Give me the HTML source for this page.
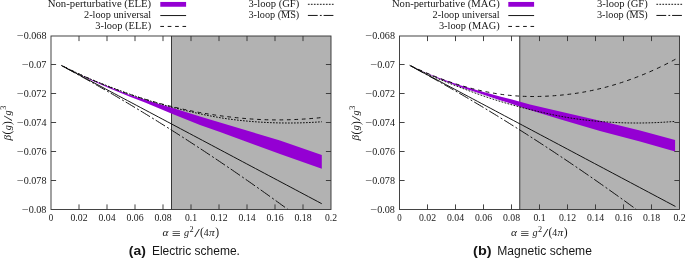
<!DOCTYPE html>
<html><head><meta charset="utf-8"><title>Beta function plots</title>
<style>
html,body{margin:0;padding:0;background:#fff;}
svg{display:block;font-family:"Liberation Serif",serif;fill:#161616;}
.ln{fill:none;stroke:#0a0a0a;stroke-width:0.95;}
.fr{fill:none;stroke:#333;stroke-width:0.92;}
</style></head><body>
<svg width="685" height="259" viewBox="0 0 685 259">
<rect width="685" height="259" fill="#fff"/>
<rect x="171.50" y="36.0" width="159.50" height="173.50" fill="#b2b2b2"/>
<line x1="171.50" y1="36.0" x2="171.50" y2="209.5" stroke="#383838" stroke-width="1"/>
<polygon points="61.30,65.20 75.00,72.20 90.00,79.00 110.00,87.30 130.00,94.90 160.00,104.20 171.30,107.60 200.00,116.50 220.00,122.40 280.00,140.60 321.80,155.10 321.80,168.70 280.00,153.90 220.00,132.00 200.00,124.90 171.30,113.60 160.00,108.80 145.00,102.60 130.00,96.80 110.00,88.50 90.00,79.80 61.30,65.20" fill="#9400d3"/>
<path d="M61.29,65.44 L65.70,67.78 L70.12,70.13 L74.53,72.47 L78.95,74.81 L83.36,77.16 L87.78,79.50 L92.19,81.84 L96.61,84.19 L101.02,86.53 L105.44,88.87 L109.85,91.22 L114.27,93.56 L118.68,95.90 L123.10,98.25 L127.51,100.59 L131.93,102.93 L136.34,105.28 L140.76,107.62 L145.17,109.97 L149.58,112.31 L154.00,114.65 L158.41,117.00 L162.83,119.34 L167.24,121.68 L171.66,124.03 L176.07,126.37 L180.49,128.71 L184.90,131.06 L189.32,133.40 L193.73,135.74 L198.15,138.09 L202.56,140.43 L206.98,142.77 L211.39,145.12 L215.81,147.46 L220.22,149.81 L224.64,152.15 L229.05,154.49 L233.47,156.84 L237.88,159.18 L242.29,161.52 L246.71,163.87 L251.12,166.21 L255.54,168.55 L259.95,170.90 L264.37,173.24 L268.78,175.58 L273.20,177.93 L277.61,180.27 L282.03,182.61 L286.44,184.96 L290.86,187.30 L295.27,189.64 L299.69,191.99 L304.10,194.33 L308.52,196.68 L312.93,199.02 L317.35,201.36 L321.76,203.71" class="ln"/>
<path d="M63.45,66.40 L65.30,67.33 L67.15,68.24 M70.90,70.07 L72.75,70.97 L74.60,71.85 M78.35,73.62 L80.20,74.47 L82.05,75.33 M85.80,77.03 L87.65,77.85 L89.50,78.67 M93.25,80.31 L95.10,81.10 L96.95,81.89 M100.70,83.46 L102.55,84.22 L104.40,84.97 M108.15,86.47 L110.00,87.20 L111.85,87.92 M115.60,89.34 L117.45,90.02 L119.30,90.70 M123.05,92.04 L124.90,92.69 L126.75,93.33 M130.50,94.60 L132.35,95.21 L134.20,95.81 M137.95,97.02 L139.80,97.60 L141.65,98.17 M145.40,99.31 L147.25,99.86 L149.10,100.40 M152.85,101.48 L154.70,102.01 L156.55,102.53 M160.30,103.56 L162.15,104.06 L164.00,104.55 M167.75,105.53 L169.60,106.00 L171.45,106.46 M175.20,107.38 L177.05,107.81 L178.90,108.24 M182.65,109.09 L184.50,109.50 L186.35,109.89 M190.10,110.67 L191.95,111.05 L193.80,111.41 M197.55,112.13 L199.40,112.47 L201.25,112.80 M205.00,113.45 L206.85,113.76 L208.70,114.06 M212.45,114.64 L214.30,114.92 L216.15,115.19 M219.90,115.71 L221.75,115.95 L223.60,116.19 M227.35,116.66 L229.20,116.88 L231.05,117.10 M234.80,117.52 L236.65,117.71 L238.50,117.90 M242.25,118.26 L244.10,118.42 L245.95,118.58 M249.70,118.88 L251.55,119.01 L253.40,119.14 M257.15,119.36 L259.00,119.46 L260.85,119.55 M264.60,119.70 L266.45,119.76 L268.30,119.81 M272.05,119.88 L273.90,119.90 L275.75,119.91 M279.50,119.90 L281.35,119.89 L283.20,119.86 M286.95,119.79 L288.80,119.74 L290.65,119.69 M294.40,119.55 L296.25,119.47 L298.10,119.38 M301.85,119.18 L303.70,119.06 L305.55,118.94 M309.30,118.67 L311.15,118.53 L313.00,118.37 M316.75,118.04 L318.60,117.86 L320.45,117.67" class="ln" stroke-width="1.1"/>
<path d="M61.29,65.32 L61.70,65.53 M63.00,66.19 L64.70,67.04 M66.00,67.69 L67.70,68.53 M69.00,69.17 L70.70,70.00 M72.00,70.63 L73.70,71.45 M75.00,72.07 L76.70,72.88 M78.00,73.49 L79.70,74.29 M81.00,74.89 L82.70,75.67 M84.00,76.25 L85.70,77.00 M87.00,77.57 L88.70,78.31 M90.00,78.86 L91.70,79.58 M93.00,80.12 L94.70,80.82 M96.00,81.35 L97.70,82.04 M99.00,82.56 L100.70,83.23 M102.00,83.74 L103.70,84.41 M105.00,84.91 L106.70,85.56 M108.00,86.06 L109.70,86.71 M111.00,87.20 L112.70,87.85 M114.00,88.34 L115.70,88.97 M117.00,89.46 L118.70,90.10 M120.00,90.58 L121.70,91.22 M123.00,91.70 L124.70,92.33 M126.00,92.80 L127.70,93.42 M129.00,93.88 L130.70,94.48 M132.00,94.94 L133.70,95.53 M135.00,95.98 L136.70,96.56 M138.00,97.00 L139.70,97.57 M141.00,98.00 L142.70,98.56 M144.00,98.98 L145.70,99.52 M147.00,99.94 L148.70,100.47 M150.00,100.88 L151.70,101.40 M153.00,101.79 L154.70,102.31 M156.00,102.69 L157.70,103.19 M159.00,103.57 L160.70,104.06 M162.00,104.43 L163.70,104.91 M165.00,105.27 L166.70,105.73 M168.00,106.08 L169.70,106.54 M171.00,106.88 L172.70,107.33 M174.00,107.66 L175.70,108.09 M177.00,108.42 L178.70,108.84 M180.00,109.16 L181.70,109.58 M183.00,109.90 L184.70,110.31 M186.00,110.62 L187.70,111.02 M189.00,111.33 L190.70,111.73 M192.00,112.03 L193.70,112.42 M195.00,112.71 L196.70,113.09 M198.00,113.38 L199.70,113.75 M201.00,114.03 L202.70,114.39 M204.00,114.66 L205.70,115.01 M207.00,115.28 L208.70,115.61 M210.00,115.87 L211.70,116.19 M213.00,116.44 L214.70,116.75 M216.00,116.98 L217.70,117.28 M219.00,117.50 L220.70,117.79 M222.00,118.00 L223.70,118.27 M225.00,118.47 L226.70,118.72 M228.00,118.90 L229.70,119.14 M231.00,119.31 L232.70,119.53 M234.00,119.69 L235.70,119.89 M237.00,120.05 L238.70,120.24 M240.00,120.38 L241.70,120.56 M243.00,120.70 L244.70,120.87 M246.00,120.99 L247.70,121.15 M249.00,121.27 L250.70,121.41 M252.00,121.52 L253.70,121.66 M255.00,121.75 L256.70,121.88 M258.00,121.97 L259.70,122.08 M261.00,122.16 L262.70,122.26 M264.00,122.34 L265.70,122.43 M267.00,122.49 L268.70,122.57 M270.00,122.63 L271.70,122.69 M273.00,122.74 L274.70,122.80 M276.00,122.83 L277.70,122.88 M279.00,122.91 L280.70,122.94 M282.00,122.96 L283.70,122.98 M285.00,122.99 L286.70,123.00 M288.00,123.01 L289.70,123.01 M291.00,123.00 L292.70,122.99 M294.00,122.97 L295.70,122.95 M297.00,122.93 L298.70,122.89 M300.00,122.86 L301.70,122.81 M303.00,122.77 L304.70,122.71 M306.00,122.66 L307.70,122.59 M309.00,122.54 L310.70,122.46 M312.00,122.39 L313.70,122.30 M315.00,122.22 L316.70,122.12 M318.00,122.03 L319.70,121.92 M321.00,121.83 L321.76,121.77" class="ln" stroke-width="1.1"/>
<path d="M62.10,65.92 L63.80,66.84 M65.70,67.87 L67.56,68.88 L69.42,69.90 L71.28,70.92 L73.14,71.94 L75.00,72.96 M77.10,74.12 L78.80,75.06 M80.70,76.12 L82.56,77.15 L84.42,78.19 L86.28,79.23 L88.14,80.27 L90.00,81.32 M92.10,82.51 L93.80,83.47 M95.70,84.55 L97.56,85.61 L99.42,86.67 L101.28,87.74 L103.14,88.80 L105.00,89.87 M107.10,91.09 L108.80,92.07 M110.70,93.17 L112.56,94.26 L114.42,95.34 L116.28,96.43 L118.14,97.52 L120.00,98.62 M122.10,99.86 L123.80,100.86 M125.70,101.99 L127.56,103.09 L129.42,104.20 L131.28,105.32 L133.14,106.43 L135.00,107.55 M137.10,108.81 L138.80,109.84 M140.70,110.99 L142.56,112.12 L144.42,113.26 L146.28,114.39 L148.14,115.53 L150.00,116.67 M152.10,117.96 L153.80,119.01 M155.70,120.19 L157.56,121.34 L159.42,122.50 L161.28,123.66 L163.14,124.82 L165.00,125.98 M167.10,127.30 L168.80,128.37 M170.70,129.57 L172.56,130.75 L174.42,131.93 L176.28,133.11 L178.14,134.30 L180.00,135.49 M182.10,136.83 L183.80,137.92 M185.70,139.15 L187.56,140.35 L189.42,141.55 L191.28,142.76 L193.14,143.97 L195.00,145.18 M197.10,146.55 L198.80,147.67 M200.70,148.91 L202.56,150.14 L204.42,151.36 L206.28,152.59 L208.14,153.83 L210.00,155.06 M212.10,156.46 L213.80,157.60 M215.70,158.87 L217.56,160.12 L219.42,161.37 L221.28,162.62 L223.14,163.88 L225.00,165.14 M227.10,166.56 L228.80,167.72 M230.70,169.01 L232.56,170.28 L234.42,171.56 L236.28,172.84 L238.14,174.12 L240.00,175.40 M242.10,176.85 L243.80,178.03 M245.70,179.35 L247.56,180.64 L249.42,181.94 L251.28,183.24 L253.14,184.55 L255.00,185.85 M257.10,187.33 L258.80,188.53 M260.70,189.88 L262.56,191.19 L264.42,192.52 L266.28,193.84 L268.14,195.17 L270.00,196.50 M272.10,198.00 L273.80,199.22 M275.70,200.59 L277.56,201.93 L279.42,203.28 L281.28,204.63 L283.14,205.98 L285.00,207.33 M287.10,208.86 L287.97,209.50" class="ln" stroke-width="1.15"/>
<rect x="51.0" y="36.0" width="280.00" height="173.50" fill="none" class="fr"/>
<path d="M79.00,209.5 v-5.1 M79.00,36.0 v5.1 M107.00,209.5 v-5.1 M107.00,36.0 v5.1 M135.00,209.5 v-5.1 M135.00,36.0 v5.1 M163.00,209.5 v-5.1 M163.00,36.0 v5.1 M191.00,209.5 v-5.1 M191.00,36.0 v5.1 M219.00,209.5 v-5.1 M219.00,36.0 v5.1 M247.00,209.5 v-5.1 M247.00,36.0 v5.1 M275.00,209.5 v-5.1 M275.00,36.0 v5.1 M303.00,209.5 v-5.1 M303.00,36.0 v5.1 M51.0,64.50 h5.1 M331.0,64.50 h-5.1 M51.0,93.50 h5.1 M331.0,93.50 h-5.1 M51.0,122.50 h5.1 M331.0,122.50 h-5.1 M51.0,151.50 h5.1 M331.0,151.50 h-5.1 M51.0,180.50 h5.1 M331.0,180.50 h-5.1" class="fr"/>
<text font-size="9.7"><tspan x="16.80" y="39.15" textLength="6.9" lengthAdjust="spacingAndGlyphs">−</tspan><tspan x="23.70" y="39.00" textLength="22.75" lengthAdjust="spacingAndGlyphs">0.068</tspan></text>
<text font-size="9.7"><tspan x="21.75" y="68.07" textLength="6.9" lengthAdjust="spacingAndGlyphs">−</tspan><tspan x="28.65" y="67.92" textLength="17.80" lengthAdjust="spacingAndGlyphs">0.07</tspan></text>
<text font-size="9.7"><tspan x="16.80" y="96.98" textLength="6.9" lengthAdjust="spacingAndGlyphs">−</tspan><tspan x="23.70" y="96.83" textLength="22.75" lengthAdjust="spacingAndGlyphs">0.072</tspan></text>
<text font-size="9.7"><tspan x="16.80" y="125.90" textLength="6.9" lengthAdjust="spacingAndGlyphs">−</tspan><tspan x="23.70" y="125.75" textLength="22.75" lengthAdjust="spacingAndGlyphs">0.074</tspan></text>
<text font-size="9.7"><tspan x="16.80" y="154.82" textLength="6.9" lengthAdjust="spacingAndGlyphs">−</tspan><tspan x="23.70" y="154.67" textLength="22.75" lengthAdjust="spacingAndGlyphs">0.076</tspan></text>
<text font-size="9.7"><tspan x="16.80" y="183.73" textLength="6.9" lengthAdjust="spacingAndGlyphs">−</tspan><tspan x="23.70" y="183.58" textLength="22.75" lengthAdjust="spacingAndGlyphs">0.078</tspan></text>
<text font-size="9.7"><tspan x="21.75" y="212.65" textLength="6.9" lengthAdjust="spacingAndGlyphs">−</tspan><tspan x="28.65" y="212.50" textLength="17.80" lengthAdjust="spacingAndGlyphs">0.08</tspan></text>
<text x="51.00" y="220.60" font-size="9.7" text-anchor="middle" textLength="4.45" lengthAdjust="spacingAndGlyphs">0</text>
<text x="79.00" y="220.60" font-size="9.7" text-anchor="middle" textLength="17.10" lengthAdjust="spacingAndGlyphs">0.02</text>
<text x="107.00" y="220.60" font-size="9.7" text-anchor="middle" textLength="17.10" lengthAdjust="spacingAndGlyphs">0.04</text>
<text x="135.00" y="220.60" font-size="9.7" text-anchor="middle" textLength="17.10" lengthAdjust="spacingAndGlyphs">0.06</text>
<text x="163.00" y="220.60" font-size="9.7" text-anchor="middle" textLength="17.10" lengthAdjust="spacingAndGlyphs">0.08</text>
<text x="191.00" y="220.60" font-size="9.7" text-anchor="middle" textLength="12.15" lengthAdjust="spacingAndGlyphs">0.1</text>
<text x="219.00" y="220.60" font-size="9.7" text-anchor="middle" textLength="17.10" lengthAdjust="spacingAndGlyphs">0.12</text>
<text x="247.00" y="220.60" font-size="9.7" text-anchor="middle" textLength="17.10" lengthAdjust="spacingAndGlyphs">0.14</text>
<text x="275.00" y="220.60" font-size="9.7" text-anchor="middle" textLength="17.10" lengthAdjust="spacingAndGlyphs">0.16</text>
<text x="303.00" y="220.60" font-size="9.7" text-anchor="middle" textLength="17.10" lengthAdjust="spacingAndGlyphs">0.18</text>
<text x="331.00" y="220.60" font-size="9.7" text-anchor="middle" textLength="12.15" lengthAdjust="spacingAndGlyphs">0.2</text>
<text y="235.9" font-size="9.8"><tspan x="162.50" font-style="italic" font-size="11.3">α</tspan><tspan x="171.50" y="236.8" font-family="DejaVu Sans, sans-serif" font-size="11.8" fill="#555">≡</tspan><tspan x="183.90" y="235.9" font-style="italic" font-size="10.2">g</tspan><tspan x="189.40" y="231.6" font-size="8.2">2</tspan><tspan x="194.20" y="236.8" font-size="12" textLength="5.6" lengthAdjust="spacingAndGlyphs">/</tspan><tspan x="200.00" y="236.3" font-size="11.6">(</tspan><tspan x="203.70" y="235.9">4</tspan><tspan x="208.90" font-style="italic" font-size="11.3">π</tspan><tspan x="215.30" y="236.3" font-size="11.6">)</tspan></text>
<text transform="translate(10.60,140.6) rotate(-90)" y="0" font-size="9.8"><tspan x="0" font-style="italic" font-size="11.3">β</tspan><tspan x="6.2" y="0.4" font-size="11.6">(</tspan><tspan x="10.3" y="0" font-style="italic" font-size="10.2">g</tspan><tspan x="15.6" y="0.4" font-size="11.6">)</tspan><tspan x="19.5" y="0.9" font-size="12" textLength="5.6" lengthAdjust="spacingAndGlyphs">/</tspan><tspan x="25.1" y="0" font-style="italic" font-size="10.2">g</tspan><tspan x="30.8" y="-4.3" font-size="8.2">3</tspan></text>
<text x="151.20" y="7.20" font-size="9.8" text-anchor="end" textLength="103.50" lengthAdjust="spacingAndGlyphs">Non-perturbative (ELE)</text>
<text x="151.20" y="18.20" font-size="9.8" text-anchor="end" textLength="67.20" lengthAdjust="spacingAndGlyphs">2-loop universal</text>
<text x="151.20" y="29.20" font-size="9.8" text-anchor="end" textLength="56.00" lengthAdjust="spacingAndGlyphs">3-loop (ELE)</text>
<rect x="160.30" y="1.95" width="25.8" height="4.8" fill="#9400d3"/>
<path d="M160.30,15.55 H186.10" class="ln"/>
<path d="M160.30,26.45 H186.10" class="ln" stroke-dasharray="3.7 3.7"/>
<text x="299.30" y="7.20" font-size="9.8" text-anchor="end" textLength="50.90" lengthAdjust="spacingAndGlyphs">3-loop (GF)</text>
<text x="299.30" y="18.20" font-size="9.8" text-anchor="end" textLength="50.90" lengthAdjust="spacingAndGlyphs">3-loop (MS)</text>
<path d="M280.00,10.65 h15.2" stroke="#111" stroke-width="0.5" fill="none"/>
<path d="M307.90,4.3 H333.70" class="ln" stroke-dasharray="1.7 1.3"/>
<path d="M307.90,15.45 H333.70" class="ln" stroke-dasharray="9.8 2.2 1.8 1.9"/>
<text x="128.80" y="255.40" font-size="12.5" textLength="17.00" lengthAdjust="spacingAndGlyphs" font-family="Liberation Sans" font-weight="bold">(a)</text>
<text x="151.90" y="255.40" font-size="12.5" textLength="88.00" lengthAdjust="spacingAndGlyphs" font-family="Liberation Sans">Electric scheme.</text>
<rect x="519.75" y="36.0" width="159.75" height="173.50" fill="#b2b2b2"/>
<line x1="519.75" y1="36.0" x2="519.75" y2="209.5" stroke="#383838" stroke-width="1"/>
<polygon points="409.80,65.20 425.00,72.20 440.00,78.30 460.00,85.30 480.00,90.90 500.00,96.40 512.00,99.50 530.00,104.40 560.00,111.50 600.00,120.80 640.00,130.60 675.10,139.95 675.10,151.60 640.00,141.60 600.00,131.00 560.00,119.30 530.00,109.90 512.00,104.00 500.00,100.20 480.00,93.50 460.00,87.00 440.00,79.20 425.00,72.50 409.80,65.20" fill="#9400d3"/>
<path d="M409.79,65.44 L414.29,67.83 L418.80,70.22 L423.30,72.61 L427.80,75.00 L432.30,77.39 L436.81,79.78 L441.31,82.17 L445.81,84.56 L450.31,86.95 L454.82,89.34 L459.32,91.73 L463.82,94.12 L468.32,96.51 L472.83,98.90 L477.33,101.29 L481.83,103.68 L486.33,106.07 L490.84,108.46 L495.34,110.85 L499.84,113.24 L504.34,115.63 L508.85,118.02 L513.35,120.41 L517.85,122.80 L522.35,125.19 L526.86,127.58 L531.36,129.97 L535.86,132.36 L540.36,134.75 L544.87,137.14 L549.37,139.53 L553.87,141.92 L558.37,144.31 L562.88,146.70 L567.38,149.09 L571.88,151.48 L576.38,153.87 L580.89,156.26 L585.39,158.65 L589.89,161.04 L594.39,163.43 L598.90,165.82 L603.40,168.21 L607.90,170.60 L612.40,172.99 L616.91,175.38 L621.41,177.77 L625.91,180.16 L630.41,182.55 L634.92,184.94 L639.42,187.33 L643.92,189.72 L648.42,192.11 L652.93,194.50 L657.43,196.90 L661.93,199.29 L666.43,201.68 L670.94,204.07 L675.44,206.46" class="ln"/>
<path d="M411.05,65.86 L412.90,66.75 L414.75,67.63 M418.50,69.38 L420.35,70.23 L422.20,71.06 M425.95,72.70 L427.80,73.49 L429.65,74.27 M433.40,75.81 L435.25,76.54 L437.10,77.27 M440.85,78.70 L442.70,79.39 L444.55,80.06 M448.30,81.39 L450.15,82.02 L452.00,82.64 M455.75,83.86 L457.60,84.44 L459.45,85.01 M463.20,86.12 L465.05,86.65 L466.90,87.17 M470.65,88.17 L472.50,88.65 L474.35,89.11 M478.10,90.01 L479.95,90.44 L481.80,90.85 M485.55,91.64 L487.40,92.01 L489.25,92.37 M493.00,93.05 L494.85,93.37 L496.70,93.67 M500.45,94.24 L502.30,94.50 L504.15,94.74 M507.90,95.18 L509.75,95.37 L511.60,95.55 M515.35,95.86 L517.20,95.98 L519.05,96.10 M522.80,96.29 L524.65,96.36 L526.50,96.42 M530.25,96.49 L532.10,96.50 L533.95,96.51 M537.70,96.47 L539.55,96.43 L541.40,96.38 M545.15,96.24 L547.00,96.16 L548.85,96.06 M552.60,95.82 L554.45,95.69 L556.30,95.54 M560.05,95.22 L561.90,95.04 L563.75,94.86 M567.50,94.45 L569.35,94.23 L571.20,94.00 M574.95,93.49 L576.80,93.21 L578.65,92.93 M582.40,92.31 L584.25,91.98 L586.10,91.64 M589.85,90.91 L591.70,90.53 L593.55,90.13 M597.30,89.29 L599.15,88.86 L601.00,88.41 M604.75,87.46 L606.60,86.97 L608.45,86.46 M612.20,85.40 L614.05,84.86 L615.90,84.30 M619.65,83.13 L621.50,82.54 L623.35,81.93 M627.10,80.66 L628.95,80.01 L630.80,79.35 M634.55,77.97 L636.40,77.27 L638.25,76.55 M642.00,75.06 L643.85,74.30 L645.70,73.53 M649.45,71.93 L651.30,71.12 L653.15,70.29 M656.90,68.58 L658.75,67.71 L660.60,66.83 M664.35,64.99 L666.20,64.07 L668.05,63.13 M671.80,61.18 L673.62,60.22 L675.44,59.24" class="ln" stroke-width="1.1"/>
<path d="M409.79,65.32 L410.20,65.53 M411.50,66.19 L413.20,67.04 M414.50,67.69 L416.20,68.53 M417.50,69.17 L419.20,70.00 M420.50,70.63 L422.20,71.45 M423.50,72.07 L425.20,72.88 M426.50,73.49 L428.20,74.29 M429.50,74.89 L431.20,75.67 M432.50,76.25 L434.20,77.00 M435.50,77.57 L437.20,78.31 M438.50,78.86 L440.20,79.58 M441.50,80.12 L443.20,80.82 M444.50,81.35 L446.20,82.04 M447.50,82.56 L449.20,83.23 M450.50,83.74 L452.20,84.41 M453.50,84.91 L455.20,85.56 M456.50,86.06 L458.20,86.71 M459.50,87.20 L461.20,87.85 M462.50,88.34 L464.20,88.97 M465.50,89.46 L467.20,90.10 M468.50,90.58 L470.20,91.22 M471.50,91.70 L473.20,92.33 M474.50,92.80 L476.20,93.42 M477.50,93.88 L479.20,94.48 M480.50,94.94 L482.20,95.53 M483.50,95.98 L485.20,96.56 M486.50,97.00 L488.20,97.57 M489.50,98.00 L491.20,98.56 M492.50,98.98 L494.20,99.52 M495.50,99.94 L497.20,100.47 M498.50,100.88 L500.20,101.40 M501.50,101.79 L503.20,102.31 M504.50,102.69 L506.20,103.19 M507.50,103.57 L509.20,104.06 M510.50,104.43 L512.20,104.91 M513.50,105.27 L515.20,105.73 M516.50,106.08 L518.20,106.54 M519.50,106.88 L521.20,107.33 M522.50,107.66 L524.20,108.09 M525.50,108.42 L527.20,108.84 M528.50,109.16 L530.20,109.58 M531.50,109.90 L533.20,110.31 M534.50,110.62 L536.20,111.02 M537.50,111.33 L539.20,111.73 M540.50,112.03 L542.20,112.42 M543.50,112.71 L545.20,113.09 M546.50,113.38 L548.20,113.75 M549.50,114.03 L551.20,114.39 M552.50,114.66 L554.20,115.01 M555.50,115.28 L557.20,115.61 M558.50,115.87 L560.20,116.19 M561.50,116.44 L563.20,116.75 M564.50,116.98 L566.20,117.28 M567.50,117.50 L569.20,117.79 M570.50,118.00 L572.20,118.27 M573.50,118.47 L575.20,118.72 M576.50,118.90 L578.20,119.14 M579.50,119.31 L581.20,119.53 M582.50,119.69 L584.20,119.89 M585.50,120.05 L587.20,120.24 M588.50,120.38 L590.20,120.56 M591.50,120.70 L593.20,120.87 M594.50,120.99 L596.20,121.15 M597.50,121.27 L599.20,121.41 M600.50,121.52 L602.20,121.66 M603.50,121.75 L605.20,121.88 M606.50,121.97 L608.20,122.08 M609.50,122.16 L611.20,122.26 M612.50,122.34 L614.20,122.43 M615.50,122.49 L617.20,122.57 M618.50,122.63 L620.20,122.69 M621.50,122.74 L623.20,122.80 M624.50,122.83 L626.20,122.88 M627.50,122.91 L629.20,122.94 M630.50,122.96 L632.20,122.98 M633.50,122.99 L635.20,123.00 M636.50,123.01 L638.20,123.01 M639.50,123.00 L641.20,122.99 M642.50,122.97 L644.20,122.95 M645.50,122.93 L647.20,122.89 M648.50,122.86 L650.20,122.81 M651.50,122.77 L653.20,122.71 M654.50,122.66 L656.20,122.59 M657.50,122.54 L659.20,122.46 M660.50,122.39 L662.20,122.30 M663.50,122.22 L665.20,122.12 M666.50,122.03 L668.20,121.92 M669.50,121.83 L671.20,121.70 M672.50,121.60 L674.20,121.46" class="ln" stroke-width="1.1"/>
<path d="M410.60,65.92 L412.30,66.84 M414.20,67.87 L416.06,68.88 L417.92,69.90 L419.78,70.92 L421.64,71.94 L423.50,72.96 M425.60,74.12 L427.30,75.06 M429.20,76.12 L431.06,77.15 L432.92,78.19 L434.78,79.23 L436.64,80.27 L438.50,81.32 M440.60,82.51 L442.30,83.47 M444.20,84.55 L446.06,85.61 L447.92,86.67 L449.78,87.74 L451.64,88.80 L453.50,89.87 M455.60,91.09 L457.30,92.07 M459.20,93.17 L461.06,94.26 L462.92,95.34 L464.78,96.43 L466.64,97.52 L468.50,98.62 M470.60,99.86 L472.30,100.86 M474.20,101.99 L476.06,103.09 L477.92,104.20 L479.78,105.32 L481.64,106.43 L483.50,107.55 M485.60,108.81 L487.30,109.84 M489.20,110.99 L491.06,112.12 L492.92,113.26 L494.78,114.39 L496.64,115.53 L498.50,116.67 M500.60,117.96 L502.30,119.01 M504.20,120.19 L506.06,121.34 L507.92,122.50 L509.78,123.66 L511.64,124.82 L513.50,125.98 M515.60,127.30 L517.30,128.37 M519.20,129.57 L521.06,130.75 L522.92,131.93 L524.78,133.11 L526.64,134.30 L528.50,135.49 M530.60,136.83 L532.30,137.92 M534.20,139.15 L536.06,140.35 L537.92,141.55 L539.78,142.76 L541.64,143.97 L543.50,145.18 M545.60,146.55 L547.30,147.67 M549.20,148.91 L551.06,150.14 L552.92,151.36 L554.78,152.59 L556.64,153.83 L558.50,155.06 M560.60,156.46 L562.30,157.60 M564.20,158.87 L566.06,160.12 L567.92,161.37 L569.78,162.62 L571.64,163.88 L573.50,165.14 M575.60,166.56 L577.30,167.72 M579.20,169.01 L581.06,170.28 L582.92,171.56 L584.78,172.84 L586.64,174.12 L588.50,175.40 M590.60,176.85 L592.30,178.03 M594.20,179.35 L596.06,180.64 L597.92,181.94 L599.78,183.24 L601.64,184.55 L603.50,185.85 M605.60,187.33 L607.30,188.53 M609.20,189.88 L611.06,191.19 L612.92,192.52 L614.78,193.84 L616.64,195.17 L618.50,196.50 M620.60,198.00 L622.30,199.22 M624.20,200.59 L626.06,201.93 L627.92,203.28 L629.78,204.63 L631.64,205.98 L633.50,207.33 M635.60,208.86 L636.47,209.50" class="ln" stroke-width="1.15"/>
<rect x="399.5" y="36.0" width="280.00" height="173.50" fill="none" class="fr"/>
<path d="M427.50,209.5 v-5.1 M427.50,36.0 v5.1 M455.50,209.5 v-5.1 M455.50,36.0 v5.1 M483.50,209.5 v-5.1 M483.50,36.0 v5.1 M511.50,209.5 v-5.1 M511.50,36.0 v5.1 M539.50,209.5 v-5.1 M539.50,36.0 v5.1 M567.50,209.5 v-5.1 M567.50,36.0 v5.1 M595.50,209.5 v-5.1 M595.50,36.0 v5.1 M623.50,209.5 v-5.1 M623.50,36.0 v5.1 M651.50,209.5 v-5.1 M651.50,36.0 v5.1 M399.5,64.50 h5.1 M679.5,64.50 h-5.1 M399.5,93.50 h5.1 M679.5,93.50 h-5.1 M399.5,122.50 h5.1 M679.5,122.50 h-5.1 M399.5,151.50 h5.1 M679.5,151.50 h-5.1 M399.5,180.50 h5.1 M679.5,180.50 h-5.1" class="fr"/>
<text font-size="9.7"><tspan x="365.30" y="39.15" textLength="6.9" lengthAdjust="spacingAndGlyphs">−</tspan><tspan x="372.20" y="39.00" textLength="22.75" lengthAdjust="spacingAndGlyphs">0.068</tspan></text>
<text font-size="9.7"><tspan x="370.25" y="68.07" textLength="6.9" lengthAdjust="spacingAndGlyphs">−</tspan><tspan x="377.15" y="67.92" textLength="17.80" lengthAdjust="spacingAndGlyphs">0.07</tspan></text>
<text font-size="9.7"><tspan x="365.30" y="96.98" textLength="6.9" lengthAdjust="spacingAndGlyphs">−</tspan><tspan x="372.20" y="96.83" textLength="22.75" lengthAdjust="spacingAndGlyphs">0.072</tspan></text>
<text font-size="9.7"><tspan x="365.30" y="125.90" textLength="6.9" lengthAdjust="spacingAndGlyphs">−</tspan><tspan x="372.20" y="125.75" textLength="22.75" lengthAdjust="spacingAndGlyphs">0.074</tspan></text>
<text font-size="9.7"><tspan x="365.30" y="154.82" textLength="6.9" lengthAdjust="spacingAndGlyphs">−</tspan><tspan x="372.20" y="154.67" textLength="22.75" lengthAdjust="spacingAndGlyphs">0.076</tspan></text>
<text font-size="9.7"><tspan x="365.30" y="183.73" textLength="6.9" lengthAdjust="spacingAndGlyphs">−</tspan><tspan x="372.20" y="183.58" textLength="22.75" lengthAdjust="spacingAndGlyphs">0.078</tspan></text>
<text font-size="9.7"><tspan x="370.25" y="212.65" textLength="6.9" lengthAdjust="spacingAndGlyphs">−</tspan><tspan x="377.15" y="212.50" textLength="17.80" lengthAdjust="spacingAndGlyphs">0.08</tspan></text>
<text x="399.50" y="220.60" font-size="9.7" text-anchor="middle" textLength="4.45" lengthAdjust="spacingAndGlyphs">0</text>
<text x="427.50" y="220.60" font-size="9.7" text-anchor="middle" textLength="17.10" lengthAdjust="spacingAndGlyphs">0.02</text>
<text x="455.50" y="220.60" font-size="9.7" text-anchor="middle" textLength="17.10" lengthAdjust="spacingAndGlyphs">0.04</text>
<text x="483.50" y="220.60" font-size="9.7" text-anchor="middle" textLength="17.10" lengthAdjust="spacingAndGlyphs">0.06</text>
<text x="511.50" y="220.60" font-size="9.7" text-anchor="middle" textLength="17.10" lengthAdjust="spacingAndGlyphs">0.08</text>
<text x="539.50" y="220.60" font-size="9.7" text-anchor="middle" textLength="12.15" lengthAdjust="spacingAndGlyphs">0.1</text>
<text x="567.50" y="220.60" font-size="9.7" text-anchor="middle" textLength="17.10" lengthAdjust="spacingAndGlyphs">0.12</text>
<text x="595.50" y="220.60" font-size="9.7" text-anchor="middle" textLength="17.10" lengthAdjust="spacingAndGlyphs">0.14</text>
<text x="623.50" y="220.60" font-size="9.7" text-anchor="middle" textLength="17.10" lengthAdjust="spacingAndGlyphs">0.16</text>
<text x="651.50" y="220.60" font-size="9.7" text-anchor="middle" textLength="17.10" lengthAdjust="spacingAndGlyphs">0.18</text>
<text x="679.50" y="220.60" font-size="9.7" text-anchor="middle" textLength="12.15" lengthAdjust="spacingAndGlyphs">0.2</text>
<text y="235.9" font-size="9.8"><tspan x="511.00" font-style="italic" font-size="11.3">α</tspan><tspan x="520.00" y="236.8" font-family="DejaVu Sans, sans-serif" font-size="11.8" fill="#555">≡</tspan><tspan x="532.40" y="235.9" font-style="italic" font-size="10.2">g</tspan><tspan x="537.90" y="231.6" font-size="8.2">2</tspan><tspan x="542.70" y="236.8" font-size="12" textLength="5.6" lengthAdjust="spacingAndGlyphs">/</tspan><tspan x="548.50" y="236.3" font-size="11.6">(</tspan><tspan x="552.20" y="235.9">4</tspan><tspan x="557.40" font-style="italic" font-size="11.3">π</tspan><tspan x="563.80" y="236.3" font-size="11.6">)</tspan></text>
<text transform="translate(359.10,140.6) rotate(-90)" y="0" font-size="9.8"><tspan x="0" font-style="italic" font-size="11.3">β</tspan><tspan x="6.2" y="0.4" font-size="11.6">(</tspan><tspan x="10.3" y="0" font-style="italic" font-size="10.2">g</tspan><tspan x="15.6" y="0.4" font-size="11.6">)</tspan><tspan x="19.5" y="0.9" font-size="12" textLength="5.6" lengthAdjust="spacingAndGlyphs">/</tspan><tspan x="25.1" y="0" font-style="italic" font-size="10.2">g</tspan><tspan x="30.8" y="-4.3" font-size="8.2">3</tspan></text>
<text x="499.70" y="7.20" font-size="9.8" text-anchor="end" textLength="107.80" lengthAdjust="spacingAndGlyphs">Non-perturbative (MAG)</text>
<text x="499.70" y="18.20" font-size="9.8" text-anchor="end" textLength="67.20" lengthAdjust="spacingAndGlyphs">2-loop universal</text>
<text x="499.70" y="29.20" font-size="9.8" text-anchor="end" textLength="60.80" lengthAdjust="spacingAndGlyphs">3-loop (MAG)</text>
<rect x="508.30" y="1.95" width="25.8" height="4.8" fill="#9400d3"/>
<path d="M508.30,15.55 H534.10" class="ln"/>
<path d="M508.30,26.45 H534.10" class="ln" stroke-dasharray="3.7 3.7"/>
<text x="647.80" y="7.20" font-size="9.8" text-anchor="end" textLength="50.90" lengthAdjust="spacingAndGlyphs">3-loop (GF)</text>
<text x="647.80" y="18.20" font-size="9.8" text-anchor="end" textLength="50.90" lengthAdjust="spacingAndGlyphs">3-loop (MS)</text>
<path d="M628.50,10.65 h15.2" stroke="#111" stroke-width="0.5" fill="none"/>
<path d="M656.40,4.3 H682.20" class="ln" stroke-dasharray="1.7 1.3"/>
<path d="M656.40,15.45 H682.20" class="ln" stroke-dasharray="9.8 2.2 1.8 1.9"/>
<text x="473.10" y="255.40" font-size="12.5" textLength="18.40" lengthAdjust="spacingAndGlyphs" font-family="Liberation Sans" font-weight="bold">(b)</text>
<text x="497.30" y="255.40" font-size="12.5" textLength="94.60" lengthAdjust="spacingAndGlyphs" font-family="Liberation Sans">Magnetic scheme</text>
</svg>
</body></html>
